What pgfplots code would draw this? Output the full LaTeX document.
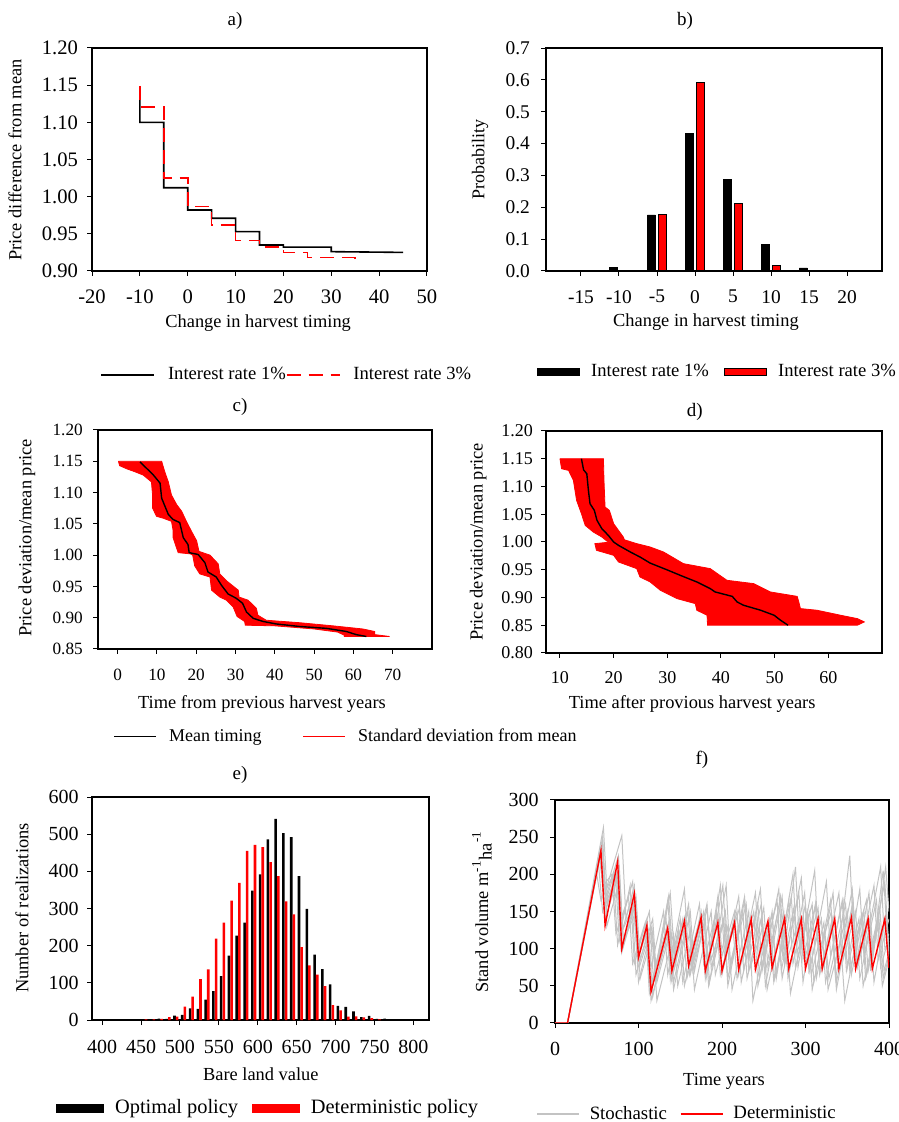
\documentclass[border=0pt]{standalone}
\usepackage{fontspec}
\setmainfont{Liberation Serif}
\usepackage{pgfplots}
\pgfplotsset{compat=1.18}
\definecolor{stoch}{RGB}{195,195,195}
\newcommand{\fs}[1]{\fontsize{#1}{#1}\selectfont}

\pgfplotsset{
  panel/.style={
    scale only axis, anchor=south west,
    axis line style={line width=0.6pt, black},
    tick align=outside, tick pos=left,
    major tick length=2.5pt,
    tick style={black, line width=0.5pt},
    /pgf/number format/assume math mode=true,
    legend style={draw=none, fill=none, legend columns=-1,
      inner xsep=0pt, inner ysep=0pt, nodes={inner sep=0pt}, anchor=west},
    legend image code/.code={\draw[#1] (0pt,0pt) -- (21pt,0pt);},
    xlabel style={anchor=center},
    ylabel style={anchor=center},
    title style={anchor=center, yshift=-6pt},
  },
  twodec/.style={yticklabel style={/pgf/number format/fixed, /pgf/number format/fixed zerofill, /pgf/number format/precision=2}},
  gr/.style={stoch, line width=0.5pt, forget plot},
}

\begin{document}
\begin{tikzpicture}
\path[use as bounding box] (0,0) rectangle (449pt,561pt);

% ---------- a) ----------
\begin{axis}[panel, twodec,
  at={(46pt,425.5pt)}, width=167.5pt, height=111.5pt,
  xmin=-20, xmax=50, ymin=0.9, ymax=1.2,
  xtick={-20,-10,0,10,20,30,40,50},
  ytick={0.9,0.95,1,1.05,1.1,1.15,1.2},
  ticklabel style={font=\fs{10.3}},
  xticklabel style={yshift=-3.2pt},
  yticklabel style={xshift=-1pt},
  xlabel={Change in harvest timing},
  ylabel={Price difference from mean},
  xlabel style={at={(axis description cs:0.496,-0.235)}, font=\fs{9.2}},
  ylabel style={at={(axis description cs:-0.23,0.498)}, font=\fs{9.2}},
  title={a)}, title style={at={(axis description cs:0.427,1.121)}, font=\fs{9.5}},
  legend image code/.code={\draw[#1] (0pt,0pt) -- (26.5pt,0pt);},
  legend style={at={(axis description cs:0.024,-0.466)}, font=\fs{9.3},
    /tikz/every odd column/.append style={column sep=6.5pt},
    /tikz/every even column/.append style={column sep=0pt}},
]
\addlegendimage{black, line width=0.8pt}
\addlegendentry{Interest rate 1\%}
\addlegendimage{red, line width=0.8pt, dash pattern=on 7pt off 4pt}
\addlegendentry{Interest rate 3\%}
\addplot[black, line width=0.8pt, forget plot] coordinates {
(-10,1.140) (-10,1.100) (-5,1.100) (-5,1.012) (0,1.012) (0,0.982) (5,0.982)
(5,0.971) (10,0.971) (10,0.953) (15,0.953) (15,0.935) (20,0.935) (20,0.932)
(30,0.932) (30,0.926) (45,0.925)};
\addplot[red, line width=0.8pt, dash pattern=on 7pt off 4pt, forget plot] coordinates {
(-10,1.149) (-10,1.121) (-5,1.121) (-5,1.112) (-5,1.025) (0,1.025) (0,0.987)
(5,0.987) (5,0.962) (10,0.962) (10,0.941) (15,0.941) (15,0.932) (20,0.932)
(20,0.925) (25,0.925) (25,0.918) (35,0.918) (35,0.913)};
\end{axis}

% ---------- b) ----------
\begin{axis}[panel,
  at={(273pt,425.5pt)}, width=168pt, height=111.5pt,
  xmin=-19.6, xmax=24.6, ymin=0, ymax=0.7,
  xtick={-15,-10,-5,0,5,10,15,20},
  ytick={0,0.1,0.2,0.3,0.4,0.5,0.6,0.7},
  yticklabel style={/pgf/number format/fixed, /pgf/number format/fixed zerofill, /pgf/number format/precision=1},
  ticklabel style={font=\fs{9.7}},
  xticklabel style={yshift=-3.6pt},
  yticklabel style={xshift=-2pt},
  xlabel={Change in harvest timing},
  ylabel={Probability},
  xlabel style={at={(axis description cs:0.476,-0.228)}, font=\fs{9.2}},
  ylabel style={at={(axis description cs:-0.196,0.498)}, font=\fs{9}},
  title={b)}, title style={at={(axis description cs:0.414,1.121)}, font=\fs{9.5}},
  legend style={at={(axis description cs:-0.027,-0.453)}, font=\fs{9.3},
    /tikz/every odd column/.append style={column sep=5.5pt},
    /tikz/every even column/.append style={column sep=7.5pt}},
]
\addlegendimage{legend image code/.code={\draw[fill=black, draw=black] (0pt,-1.75pt) rectangle (21pt,1.75pt);}}
\addlegendentry{Interest rate 1\%}
\addlegendimage{legend image code/.code={\draw[fill=red, draw=black, line width=0.6pt] (0pt,-1.75pt) rectangle (21pt,1.75pt);}}
\addlegendentry{Interest rate 3\%}
\addplot[ybar, bar width=1.05, bar shift=0pt, fill=black, draw=black, forget plot] coordinates {
(-10.75,0.0115) (-5.75,0.176) (-0.75,0.431) (4.25,0.286) (9.25,0.084) (14.25,0.0094)};
\addplot[ybar, bar width=1.05, bar shift=0pt, fill=red, draw=black, line width=0.5pt, forget plot] coordinates {
(-4.25,0.177) (0.75,0.591) (5.75,0.212) (10.75,0.018)};
\end{axis}

% ---------- c) ----------
\begin{axis}[panel, twodec,
  at={(49pt,236.5pt)}, width=167pt, height=109.5pt,
  xmin=-5, xmax=80, ymin=0.85, ymax=1.2,
  xtick={0,10,20,30,40,50,60,70},
  ytick={0.85,0.9,0.95,1,1.05,1.1,1.15,1.2},
  ticklabel style={font=\fs{8.6}},
  xticklabel style={yshift=-3.8pt},
  yticklabel style={xshift=-1.6pt},
  xlabel={Time from previous harvest years},
  ylabel={Price deviation/mean price},
  xlabel style={at={(axis description cs:0.491,-0.25)}, font=\fs{9.2}},
  ylabel style={at={(axis description cs:-0.213,0.507)}, font=\fs{9.2}},
  title={c)}, title style={at={(axis description cs:0.425,1.105)}, font=\fs{9.5}},
  legend style={at={(axis description cs:0.045,-0.4)}, font=\fs{9},
    /tikz/every odd column/.append style={column sep=6pt},
    /tikz/every even column/.append style={column sep=20.5pt}},
]
\addlegendimage{black, line width=0.8pt}
\addlegendentry{Mean timing}
\addlegendimage{red, line width=0.8pt}
\addlegendentry{Standard deviation from mean}
\addplot[fill=red, draw=red, line width=0.4pt, forget plot] coordinates {
(0.2,1.150) (0.5,1.143) (2.3,1.138) (4.5,1.133) (6.5,1.128) (8.6,1.117)
(8.9,1.095) (8.9,1.075) (9.9,1.062) (11.6,1.059) (13.7,1.054) (14.1,1.040)
(14.1,1.028) (15.4,1.004) (18.5,1.002) (19.1,1.000) (19.6,0.983) (20.9,0.970)
(23.5,0.965) (23.9,0.944) (26.0,0.933) (27.7,0.928) (29.4,0.917) (30.4,0.902)
(32.3,0.894) (32.5,0.888) (40.0,0.887) (50.0,0.882) (56.0,0.877) (57.7,0.872)
(57.7,0.870) (69.2,0.870) (65.4,0.873) (65.4,0.878) (62.4,0.882) (54.8,0.887)
(46.3,0.892) (37.8,0.896) (35.7,0.904) (35.3,0.915) (33.2,0.928) (30.9,0.933)
(30.7,0.944) (27.7,0.959) (26.0,0.970) (25.6,0.986) (23.5,1.000) (20.7,1.006)
(20.1,1.023) (18.8,1.038) (17.5,1.054) (16.3,1.070) (15.0,1.081) (13.7,1.096)
(12.9,1.117) (12.0,1.133) (11.2,1.150) (0.2,1.150)};
\addplot[black, line width=0.7pt, forget plot] coordinates {
(5.7,1.149) (9.1,1.128) (10.8,1.115) (11.2,1.091) (12.9,1.065) (14.1,1.057)
(15.8,1.052) (16.7,1.028) (17.9,1.017) (18.2,1.004) (20.5,1.001) (22.2,0.988)
(23.0,0.973) (25.1,0.965) (26.4,0.952) (28.1,0.938) (30.2,0.931) (31.8,0.923)
(32.8,0.909) (34.5,0.899) (37.0,0.894) (40.4,0.890) (46.3,0.886) (53.1,0.883)
(58.2,0.878) (60.7,0.873) (63.3,0.870)};
\end{axis}

% ---------- d) ----------
\begin{axis}[panel, twodec,
  at={(273pt,234.5pt)}, width=168pt, height=111pt,
  xmin=7.4, xmax=70, ymin=0.8, ymax=1.2,
  xtick={10,20,30,40,50,60},
  ytick={0.8,0.85,0.9,0.95,1,1.05,1.1,1.15,1.2},
  ticklabel style={font=\fs{9}},
  xticklabel style={yshift=-3pt},
  yticklabel style={xshift=-0.5pt},
  xlabel={Time after provious harvest years},
  ylabel={Price deviation/mean price},
  xlabel style={at={(axis description cs:0.435,-0.228)}, font=\fs{9.2}},
  ylabel style={at={(axis description cs:-0.202,0.5)}, font=\fs{9.2}},
  title={d)}, title style={at={(axis description cs:0.443,1.086)}, font=\fs{9.5}},
]
\addplot[fill=red, draw=red, line width=0.4pt] coordinates {
(10.0,1.150) (10.3,1.132) (11.6,1.129) (12.5,1.111) (13.1,1.075) (14.0,1.051)
(14.7,1.030) (16.2,1.018) (17.8,1.009) (18.7,1.002) (19.5,1.000) (16.5,0.997)
(16.8,0.985) (20.0,0.976) (20.9,0.964) (24.3,0.952) (24.9,0.937) (26.8,0.928)
(28.7,0.913) (31.8,0.898) (35.2,0.889) (35.5,0.877) (37.4,0.868) (37.5,0.850)
(65.4,0.850) (66.7,0.856) (65.4,0.862) (62.3,0.868) (57.9,0.877) (54.8,0.880)
(54.5,0.892) (54.2,0.902) (49.2,0.910) (46.1,0.925) (41.1,0.931) (38.0,0.952)
(33.0,0.961) (29.3,0.982) (26.8,0.991) (24.3,0.997) (22.0,1.004) (21.8,1.009)
(20.9,1.021) (20.0,1.033) (19.2,1.057) (18.4,1.063) (18.2,1.111) (18.1,1.150)
(10.0,1.150)};
\addplot[black, line width=0.7pt] coordinates {
(14.0,1.150) (14.4,1.130) (15.0,1.123) (15.3,1.093) (15.6,1.069) (16.4,1.057)
(16.9,1.039) (17.8,1.024) (19.0,1.012) (20.0,1.000) (20.9,0.994) (23.1,0.982)
(24.9,0.973) (26.8,0.962) (29.9,0.950) (32.4,0.940) (35.5,0.928) (38.0,0.916)
(38.9,0.910) (42.1,0.902) (43.0,0.892) (44.2,0.886) (47.4,0.877) (49.9,0.868)
(51.1,0.859) (52.5,0.850)};
\end{axis}

% ---------- e) ----------
\begin{axis}[panel,
  at={(46pt,51pt)}, width=168.5pt, height=111.5pt,
  xmin=387, xmax=820, ymin=0, ymax=600,
  xtick={400,450,500,550,600,650,700,750,800},
  ytick={0,100,200,300,400,500,600},
  ticklabel style={font=\fs{10}},
  xticklabel style={yshift=-4.2pt},
  yticklabel style={xshift=-0.7pt},
  xlabel={Bare land value},
  ylabel={Number of realizations},
  xlabel style={at={(axis description cs:0.501,-0.245)}, font=\fs{9.2}},
  ylabel style={at={(axis description cs:-0.208,0.502)}, font=\fs{9.2}},
  title={e)}, title style={at={(axis description cs:0.439,1.099)}, font=\fs{9.5}},
  legend style={at={(axis description cs:-0.107,-0.395)}, font=\fs{10.2},
    /tikz/every odd column/.append style={column sep=5.5pt},
    /tikz/every even column/.append style={column sep=7pt}},
]
\addlegendimage{legend image code/.code={\fill[black] (0pt,-2pt) rectangle (23.5pt,2pt);}}
\addlegendentry{Optimal policy}
\addlegendimage{legend image code/.code={\fill[red] (0pt,-2pt) rectangle (23.5pt,2pt);}}
\addlegendentry{Deterministic policy}
\addplot[ybar, bar width=3.3, bar shift=0pt, fill=black, draw=none, forget plot] coordinates {
(413,2) (433,2) (453,2) (463,2) (473,4) (483,3) (493,12) (503,14) (513,31)
(523,30) (533,55) (543,78) (553,118) (563,173) (573,227) (583,262) (593,348)
(603,392) (613,486) (623,541) (633,503) (643,492) (653,387) (663,299) (673,176)
(683,137) (693,96) (703,38) (713,35) (723,23) (733,8) (743,11) (753,3) (763,4)
(793,2)};
\addplot[ybar, bar width=3.3, bar shift=0pt, fill=red, draw=none, forget plot] coordinates {
(456.4,2) (466.4,2) (476.4,3) (486.4,8) (496.4,9) (506.4,36) (516.4,63)
(526.4,110) (536.4,136) (546.4,219) (556.4,262) (566.4,321) (576.4,369)
(586.4,455) (596.4,471) (606.4,465) (616.4,425) (626.4,387) (636.4,319)
(646.4,284) (656.4,196) (666.4,147) (676.4,122) (686.4,91) (696.4,40)
(706.4,26) (716.4,9) (726.4,10) (736.4,7) (746.4,5) (756.4,2)};
\end{axis}

% ---------- f) ----------
\begin{axis}[panel,
  at={(277.5pt,49.5pt)}, width=167pt, height=111.5pt,
  xmin=0, xmax=400, ymin=0, ymax=300,
  xtick={0,100,200,300,400},
  ytick={0,50,100,150,200,250,300},
  ticklabel style={font=\fs{10}},
  xticklabel style={yshift=-3.4pt},
  yticklabel style={xshift=-2.2pt},
  xlabel={Time years},
  ylabel={Stand volume m\textsuperscript{-1}\raisebox{-0.4ex}{ha}\textsuperscript{-1}},
  xlabel style={at={(axis description cs:0.506,-0.26)}, font=\fs{9.2}},
  ylabel style={at={(axis description cs:-0.219,0.498)}, font=\fs{9.2}},
  title={f)}, title style={at={(axis description cs:0.44,1.18)}, font=\fs{9.5}},
  legend style={at={(axis description cs:-0.057,-0.408)}, font=\fs{9.4},
    /tikz/every odd column/.append style={column sep=5pt},
    /tikz/every even column/.append style={column sep=6.5pt}},
]
\addlegendimage{stoch, line width=0.7pt}
\addlegendentry{Stochastic}
\addlegendimage{red, line width=0.7pt}
\addlegendentry{Deterministic}
\addplot[gr] coordinates {(0,0) (15,0) (58,263) (63,160) (73,205) (78,130) (93,190) (98,95) (113,150) (118,55) (138,175) (143,90) (153,140) (158,60) (178,150) (183,75) (198,185) (203,90) (218,150) (223,55) (243,160) (248,70) (268,180) (273,85) (288,210) (293,100) (308,160) (313,60) (333,175) (338,80) (353,225) (358,105) (373,165) (378,70) (393,205) (398,115) (400,120)};
\addplot[gr] coordinates {(0,0) (15,0) (55,230) (60,175) (80,252) (85,140) (95,185) (100,90) (110,135) (115,30) (135,120) (140,60) (160,160) (165,70) (180,140) (185,55) (205,185) (210,80) (225,150) (230,60) (250,155) (255,75) (270,170) (275,80) (295,195) (300,90) (315,155) (320,70) (340,175) (345,85) (360,150) (365,60) (385,165) (390,75) (400,115)};
\addplot[gr] coordinates {(0,0) (15,0) (52,215) (57,150) (72,205) (77,110) (92,170) (97,65) (112,125) (117,35) (137,140) (142,55) (157,130) (162,65) (182,160) (187,75) (202,135) (207,50) (227,165) (232,70) (247,140) (252,50) (272,170) (277,80) (292,140) (297,55) (312,160) (317,70) (332,135) (337,45) (357,165) (362,75) (377,140) (382,55) (397,150) (400,90)};
\addplot[gr] coordinates {(0,0) (15,0) (50,200) (55,165) (70,200) (75,105) (90,185) (95,80) (110,140) (115,75) (130,150) (135,65) (155,180) (160,85) (175,145) (180,60) (195,170) (200,90) (215,150) (220,65) (240,175) (245,90) (260,145) (265,60) (280,165) (285,80) (300,160) (305,70) (325,190) (330,90) (345,165) (350,75) (365,180) (370,90) (390,210) (395,100) (400,110)};
\addplot[gr] coordinates {(0,0) (15,0) (57,245) (62,130) (77,190) (82,110) (97,150) (102,60) (117,120) (122,30) (142,120) (147,50) (162,125) (167,45) (187,150) (192,65) (207,130) (212,45) (232,150) (237,30) (257,140) (262,55) (277,125) (282,40) (302,150) (307,65) (322,135) (327,45) (342,110) (347,30) (367,145) (372,60) (387,130) (392,50) (400,85)};
\addplot[gr] coordinates {(0,0) (15,0) (55,232) (60,140) (75,195) (80,95) (95,155) (100,55) (115,125) (120,70) (135,165) (140,85) (150,140) (155,50) (175,150) (180,70) (195,145) (200,65) (220,170) (225,85) (240,145) (245,60) (260,150) (265,65) (285,200) (290,95) (305,150) (310,55) (330,165) (335,80) (350,150) (355,65) (370,150) (375,70) (395,190) (400,95)};
\addplot[gr] coordinates {(0,0) (15,0) (53,222) (58,185) (68,200) (73,120) (88,170) (93,80) (108,135) (113,40) (133,140) (138,60) (148,125) (153,55) (173,160) (178,80) (193,150) (198,65) (213,130) (218,60) (238,150) (243,50) (258,130) (263,60) (283,170) (288,75) (303,140) (308,45) (323,125) (328,60) (348,160) (353,70) (368,145) (373,65) (388,140) (393,60) (400,90)};
\addplot[gr] coordinates {(0,0) (15,0) (56,240) (61,170) (76,225) (81,125) (96,165) (101,75) (116,130) (121,65) (136,170) (141,95) (156,145) (161,65) (176,135) (181,60) (201,185) (206,95) (221,155) (226,70) (246,180) (251,90) (266,165) (271,70) (286,155) (291,75) (311,205) (316,95) (331,150) (336,60) (356,180) (361,80) (376,175) (381,90) (396,210) (400,150)};
\addplot[gr] coordinates {(0,0) (15,0) (54,225) (59,155) (74,200) (79,100) (94,160) (99,85) (109,120) (114,45) (134,130) (139,55) (159,150) (164,75) (179,130) (184,50) (204,150) (209,70) (229,160) (234,75) (249,130) (254,45) (274,150) (279,60) (299,175) (304,70) (319,140) (324,55) (344,165) (349,70) (364,140) (369,50) (389,155) (394,70) (400,95)};
\addplot[gr] coordinates {(0,0) (15,0) (57,250) (62,145) (77,210) (82,105) (97,170) (102,85) (117,140) (122,55) (137,120) (142,45) (162,150) (167,70) (182,155) (187,85) (202,140) (207,60) (227,170) (232,85) (247,160) (252,70) (267,150) (272,60) (292,175) (297,85) (312,160) (317,65) (332,140) (337,55) (357,160) (362,75) (382,185) (387,85) (400,140)};
\addplot[red, line width=0.7pt, forget plot] coordinates {(0,0) (15,0) (55,232) (60,131) (75,217) (80,100) (95,174) (100,88) (110,131) (115,42) (135,128) (140,70) (155,137) (160,77) (175,142) (180,70) (195,135) (200,70) (215,135) (220,72) (235,140) (240,72) (255,137) (260,74) (275,141) (280,73) (295,140) (300,73) (315,140) (320,73) (335,140) (340,73) (355,142) (360,73) (375,140) (380,73) (395,140) (400,74)};
\end{axis}
\end{tikzpicture}
\end{document}
